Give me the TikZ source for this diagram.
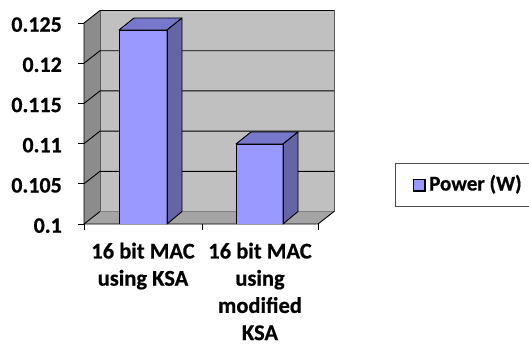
\documentclass[tikz,border=0pt]{standalone}
\usepackage{fontspec}
\setmainfont{Carlito}[BoldFont={Carlito Bold}, BoldFeatures={FakeBold=0.6}]
\definecolor{backwall}{RGB}{192,192,192}
\definecolor{leftwall}{RGB}{140,140,140}
\definecolor{floorc}{RGB}{164,164,164}
\definecolor{barfront}{RGB}{153,153,255}
\definecolor{bartop}{RGB}{119,119,204}
\definecolor{barside}{RGB}{100,100,166}
\begin{document}
\begin{tikzpicture}[x=1pt,y=-1pt,
  lbl/.style={font=\bfseries\fontsize{22}{27.5}\selectfont, inner sep=0pt},
  cat/.style={font=\bfseries\fontsize{22.5}{27.2}\selectfont, inner sep=0pt, align=center},
  grid line/.style={black, line width=0.9pt},
  bar edge/.style={draw=black, line width=0.9pt, line join=round}]
\useasboundingbox (0,0) rectangle (529,345);
% walls
\fill[backwall] (100,10.5) rectangle (334,211.5);
\fill[leftwall] (84,23)--(100,10.5)--(100,211.5)--(84,224)--cycle;
\fill[floorc] (84,224)--(100,211.5)--(334,211.5)--(318,224)--cycle;
\draw[gray!70!black, line width=0.6pt] (100,211.5)--(100,10.5)--(334,10.5)--(334,211.5);
\draw[gray, line width=0.6pt] (100,211.5)--(334,211.5);
% grid lines
\foreach \i in {1,...,5}{
  \draw[grid line] (84,224-40.2*\i)--(100,211.5-40.2*\i)--(334,211.5-40.2*\i);
}
\draw[grid line] (84,224)--(100,211.5);
% axes and ticks
\draw[black, line width=0.9pt] (84,23)--(84,224)--(318,224)--(334,211.5);
\foreach \i in {0,...,5}{
  \draw[black, line width=0.9pt] (78,224-40.2*\i)--(84,224-40.2*\i);
}
\foreach \x in {84,202,318}{
  \draw[black, line width=0.9pt] (\x,224)--(\x,230);
}
% bar 1
\fill[barfront] (119,30) rectangle (167,224);
\draw[bar edge, fill=bartop] (119,30)--(134,18)--(182,18)--(167,30)--cycle;
\draw[bar edge, fill=barside] (167,30)--(182,18)--(182,211.5)--(167,224)--cycle;
\draw[bar edge] (119,224)--(119,30)--(167,30)--(167,224);
% bar 2
\fill[barfront] (236,144) rectangle (283,224);
\draw[bar edge, fill=bartop] (236,144)--(251,132)--(298,132)--(283,144)--cycle;
\draw[bar edge, fill=barside] (283,144)--(298,132)--(298,211.5)--(283,224)--cycle;
\draw[bar edge] (236,224)--(236,144)--(283,144)--(283,224);
% y labels
\node[lbl, anchor=base east] (y0) at (62,224+8.7) {0.1};
\node[lbl, anchor=base east] (y1) at (62,224-40.2+8.7) {0.105};
\node[lbl, anchor=base east] (y2) at (62,224-80.4+8.7) {0.11};
\node[lbl, anchor=base east] (y3) at (62,224-120.6+8.7) {0.115};
\node[lbl, anchor=base east] (y4) at (62,224-160.8+8.7) {0.12};
\node[lbl, anchor=base east] (y5) at (62,224-201+8.7) {0.125};
% category labels
\node[cat, anchor=north] (c1) at (143,242.5) {16 bit MAC\\using KSA};
\node[cat, anchor=north] (c2) at (260,242.5) {16 bit MAC\\using\\modified\\KSA};
% legend
\draw[gray!60!black, line width=0.8pt] (529,163)--(395,163)--(395,206)--(529,206);
\draw[black, line width=1.3pt, fill=barfront] (413.5,179.5) rectangle (425,191);
\node[font=\bfseries\fontsize{21}{25}\selectfont, inner sep=0pt, anchor=base west] (leg) at (429,190.5) {Power (W)};
\end{tikzpicture}
\end{document}
